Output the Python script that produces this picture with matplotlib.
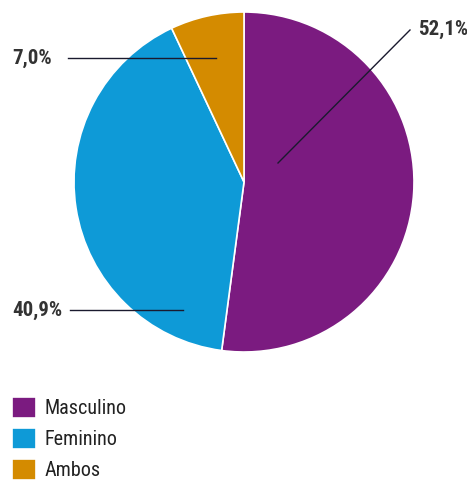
import matplotlib.pyplot as plt

# Share by gender
labels = ["Masculino", "Feminino", "Ambos"]
shares = [52.1, 40.9, 7.0]
colors = ["#7B1B80", "#0E9AD7", "#D48B00"]
pct_text = ["52,1%", "40,9%", "7,0%"]

plt.rcParams["font.family"] = ["Roboto Condensed", "DejaVu Sans"]

W, H = 467, 482
fig = plt.figure(figsize=(W / 100, H / 100), dpi=100)
ax = fig.add_axes([0, 0, 1, 1])

# pie drawn in pixel-like coordinates, y measured upward
cx, cy, r = 244, H - 182, 170
wedges, _ = ax.pie(shares, colors=colors, startangle=90, counterclock=False,
                   center=(cx, cy), radius=r,
                   wedgeprops=dict(edgecolor="white", linewidth=1.2))
ax.set_xlim(0, W)
ax.set_ylim(0, H)
ax.set_aspect("equal")
ax.axis("off")

# leader lines with percentage labels: (text x, text y, line start, line end)
callouts = [
    (418, 29, (410, 30), (278, 163)),
    (12, 310, (70, 310), (183, 310)),
    (12, 58, (68, 58), (216, 58)),
]
for txt, (tx, ty, p0, p1) in zip(pct_text, callouts):
    ax.plot([p0[0], p1[0]], [H - p0[1], H - p1[1]], color="#1a1a2e", lw=1.0)
    ax.text(tx, H - ty, txt, ha="left", va="center", fontsize=15,
            fontweight="bold", color="#333333")

fig.legend(wedges, labels, loc="upper left",
           bbox_to_anchor=(12 / W, 1 - 397 / H),
           frameon=False, fontsize=14.5, handlelength=1.2, handleheight=1.2,
           handletextpad=0.4, labelspacing=0.5, borderaxespad=0,
           borderpad=0, labelcolor="#222222")

fig.savefig("out.png", dpi=100)
